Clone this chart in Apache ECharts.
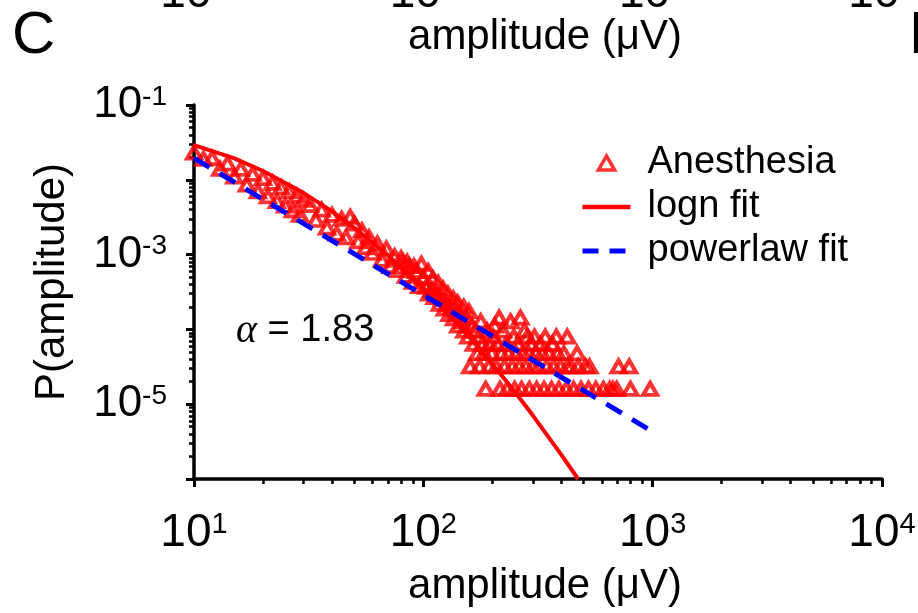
<!DOCTYPE html>
<html><head><meta charset="utf-8">
<script src="https://cdn.jsdelivr.net/npm/echarts@6/dist/echarts.min.js"></script>
<style>html,body{margin:0;padding:0;background:#fff}#c{width:918px;height:613px}</style>
</head><body><div id="c"></div>
<script>
const FONT = 'Liberation Sans, Arial, Helvetica, sans-serif';

// Anesthesia amplitude histogram (amplitude in µV, probability)
const anesAmp = [
  10,11,12,13,14,15,16,17,18,19,20,21,22,23,24,25,26,27,28,29,30,
  32,34,36,38,40,42,44,46,48,50,52,54,56,58,60,
  63,66,69,72,75,78,81,84,87,90,93,96,100,
  103,106,109,112,115,118,121,124,127,130,133,136,139,142,145,148,151,154,157,160,
  163,166,169,172,175,176,178,181,184,187,190,193,196,199,
  202,205,208,211,214,216,219,222,226,230,232,235,240,244,248,250,254,258,262,265,
  268,272,276,280,284,288,290,295,300,305,310,312,318,324,330,336,340,345,352,362,
  365,370,380,385,390,396,410,420,424,425,440,452,468,473,487,510,525,530,565,610,
  650,671,697,710,790,800,975,
  80,85,91,98,105,110,116,122,128,135,141,150,158
];
const anesProb = [
  2.3e-2,1.9e-2,1.95e-2,1.4e-2,1.65e-2,1.1e-2,1.4e-2,8.6e-3,1.2e-2,7.0e-3,1.05e-2,6.0e-3,9.1e-3,5.2e-3,7.9e-3,4.5e-3,7.0e-3,3.9e-3,6.1e-3,3.4e-3,5.4e-3,
  4.6e-3,2.9e-3,4.0e-3,2.3e-3,3.4e-3,1.9e-3,3.0e-3,1.7e-3,3.2e-3,2.6e-3,1.5e-3,2.1e-3,1.25e-3,1.7e-3,1.05e-3,
  1.4e-3,8.5e-4,1.2e-3,7.0e-4,9.5e-4,6.2e-4,8.0e-4,5.2e-4,7.0e-4,4.3e-4,6.0e-4,3.8e-4,5.0e-4,
  3.7e-4,3.0e-4,3.4e-4,2.7e-4,3.0e-4,2.2e-4,2.6e-4,1.9e-4,2.2e-4,1.6e-4,2.0e-4,1.4e-4,1.8e-4,1.12e-4,1.6e-4,1.28e-4,9.6e-5,1.44e-4,8.0e-5,3.2e-5,
  1.12e-4,6.4e-5,9.6e-5,4.8e-5,8.0e-5,3.2e-5,1.28e-4,6.4e-5,4.8e-5,1.6e-5,9.6e-5,3.2e-5,6.4e-5,4.8e-5,
  8.0e-5,1.12e-4,3.2e-5,6.4e-5,1.44e-4,1.6e-5,4.8e-5,9.6e-5,3.2e-5,6.4e-5,1.6e-5,4.8e-5,1.28e-4,3.2e-5,8.0e-5,1.6e-5,4.8e-5,6.4e-5,3.2e-5,1.44e-4,
  1.6e-5,4.8e-5,9.6e-5,3.2e-5,8.0e-5,4.8e-5,1.6e-5,6.4e-5,3.2e-5,8.0e-5,4.8e-5,1.6e-5,3.2e-5,6.4e-5,4.8e-5,1.6e-5,8.0e-5,3.2e-5,4.8e-5,1.6e-5,
  6.4e-5,3.2e-5,8.0e-5,4.8e-5,1.6e-5,3.2e-5,4.8e-5,1.6e-5,8.0e-5,3.2e-5,3.2e-5,1.6e-5,4.8e-5,3.2e-5,1.6e-5,3.2e-5,1.6e-5,3.2e-5,1.6e-5,1.6e-5,
  1.6e-5,1.6e-5,1.6e-5,3.2e-5,3.2e-5,1.6e-5,1.6e-5,
  9.0e-4,8.0e-4,7.0e-4,7.5e-4,6.0e-4,4.8e-4,4.2e-4,3.5e-4,3.0e-4,2.6e-4,2.3e-4,2.0e-4,1.76e-4
];

// lognormal fit curve
const lognAmp  = [10, 15, 20, 30, 40, 50, 70, 100, 150, 200, 250, 300, 400, 473];
const lognProb = [2.9e-2, 1.93e-2, 1.31e-2, 6.7e-3, 3.78e-3, 2.28e-3, 9.8e-4, 3.54e-4, 9.6e-5, 3.45e-5, 1.48e-5, 7.1e-6, 2.1e-6, 1.0e-6];

// power-law fit line
const powAmp  = [10, 100, 1000];
const powProb = [1.95e-2, 2.88e-4, 4.3e-6];

// axis ticks
const xMinor = [20,30,40,50,60,70,80,90,200,300,400,500,600,700,800,900,2000,3000,4000,5000,6000,7000,8000,9000];
const yMinor = [2e-6,3e-6,4e-6,5e-6,6e-6,7e-6,8e-6,9e-6,2e-5,3e-5,4e-5,5e-5,6e-5,7e-5,8e-5,9e-5,
                2e-4,3e-4,4e-4,5e-4,6e-4,7e-4,8e-4,9e-4,2e-3,3e-3,4e-3,5e-3,6e-3,7e-3,8e-3,9e-3,
                2e-2,3e-2,4e-2,5e-2,6e-2,7e-2,8e-2,9e-2];
const yLabelledExp = [-1, -3, -5];
const xTopPartial = [10, 100, 1000, 10000];
const alphaValue = '1.83';

function makeRich(big, small, pad, colorKey) {
  const b = {fontSize: big, lineHeight: big, fontFamily: FONT, padding: [pad,0,0,0], verticalAlign: 'bottom'};
  const s = {fontSize: small, lineHeight: small, fontFamily: FONT, verticalAlign: 'top'};
  b[colorKey] = '#000'; s[colorKey] = '#000';
  return {b: b, s: s};
}
function expOf(v) { return Math.round(Math.log10(v)); }
function expLabel(v) { return '{b|10}{s|' + expOf(v) + '}'; }

const chart = echarts.init(document.getElementById('c'), null, {renderer: 'canvas'});
const axisLineStyle = {color: '#000', width: 3.5};
const triIcon = 'path://M7,0L14,12L0,12Z';
const RED = '#ff0000', BLUE = '#0000ff';

const option = {
  animation: false,
  backgroundColor: '#fff',
  grid: {left: 194, right: 36, top: 105, bottom: 134, containLabel: false, outerBoundsMode: 'none'},
  xAxis: [{
    type: 'log', logBase: 10, min: 10, max: 10000, position: 'bottom',
    axisLine: {show: true, lineStyle: axisLineStyle},
    axisTick: {show: true, length: 8, lineStyle: {color: '#000', width: 3}},
    minorTick: {show: false}, splitLine: {show: false},
    axisLabel: {formatter: expLabel, rich: makeRich(46, 29, 13, 'color'), margin: 31, color: '#000'},
    name: 'amplitude (μV)', nameLocation: 'middle', nameGap: 86,
    nameTextStyle: {fontSize: 42, fontFamily: FONT, color: '#000', padding: [0,0,0,14]}
  }, {
    type: 'log', logBase: 10, min: 10, max: 10000, position: 'bottom', gridIndex: 0,
    axisLine: {show: false},
    axisTick: {show: true, length: 5, customValues: xMinor, lineStyle: {color: '#000', width: 2.5}},
    axisLabel: {show: false}, splitLine: {show: false}
  }],
  yAxis: [{
    type: 'log', logBase: 10, min: 1e-6, max: 1e-1, position: 'left',
    axisLine: {show: true, lineStyle: axisLineStyle},
    axisTick: {show: true, length: 8, lineStyle: {color: '#000', width: 3}},
    minorTick: {show: false}, splitLine: {show: false},
    axisLabel: {
      formatter: function (v) { return yLabelledExp.indexOf(expOf(v)) >= 0 ? expLabel(v) : ''; },
      rich: makeRich(44, 28, 12, 'color'), margin: 27, color: '#000'
    },
    name: 'P(amplitude)', nameLocation: 'middle', nameGap: 121,
    nameTextStyle: {fontSize: 42, fontFamily: FONT, color: '#000', padding: [0,0,0,20]}
  }, {
    type: 'log', logBase: 10, min: 1e-6, max: 1e-1, position: 'left', gridIndex: 0,
    axisLine: {show: false},
    axisTick: {show: true, length: 5, customValues: yMinor, lineStyle: {color: '#000', width: 2.5}},
    axisLabel: {show: false}, splitLine: {show: false}
  }],
  legend: {
    orient: 'vertical', left: 575, top: 139, itemWidth: 48, itemHeight: 14, itemGap: 6,
    symbolKeepAspect: true,
    textStyle: {fontSize: 38, fontFamily: FONT, color: '#000', padding: [0,0,0,12]},
    data: [
      {name: 'Anesthesia', icon: triIcon,
       itemStyle: {color: 'rgba(255,255,255,0)', borderColor: RED, borderWidth: 3.5}},
      {name: 'logn fit', itemStyle: {opacity: 0},
       lineStyle: {color: RED, width: 4.5, type: 'solid'}},
      {name: 'powerlaw fit', itemStyle: {opacity: 0},
       lineStyle: {color: BLUE, width: 5, type: [16, 11]}}
    ]
  },
  series: [{
    name: 'Anesthesia', type: 'scatter', xAxisIndex: 0, yAxisIndex: 0,
    symbol: 'triangle', symbolSize: [14, 12],
    itemStyle: {color: 'rgba(255,255,255,0)', borderColor: RED, borderWidth: 4},
    data: anesAmp.map((a, i) => [a, anesProb[i]])
  }, {
    name: 'logn fit', type: 'line', xAxisIndex: 0, yAxisIndex: 0,
    showSymbol: false, symbol: 'none', smooth: false,
    lineStyle: {color: RED, width: 4}, itemStyle: {color: RED},
    data: lognAmp.map((a, i) => [a, lognProb[i]])
  }, {
    name: 'powerlaw fit', type: 'line', xAxisIndex: 0, yAxisIndex: 0,
    showSymbol: false, symbol: 'none',
    lineStyle: {color: BLUE, width: 5, type: [18, 12]}, itemStyle: {color: BLUE},
    data: powAmp.map((a, i) => [a, powProb[i]])
  }]
};
chart.setOption(option);

const graphics = [
  {type: 'text', x: 12, y: 36, style: {text: 'C', fontSize: 60, fontFamily: FONT, fill: '#000', align: 'left', verticalAlign: 'middle'}},
  {type: 'text', x: 545, y: 37, style: {text: 'amplitude (μV)', fontSize: 42, fontFamily: FONT, fill: '#000', align: 'center', verticalAlign: 'middle'}},
  {type: 'text', x: 909, y: 36, style: {text: 'D', fontSize: 60, fontFamily: FONT, fill: '#000', align: 'left', verticalAlign: 'middle'}},
  {type: 'text', x: 236, y: 331, style: {
    text: '{a|α}{t| = ' + alphaValue + '}', verticalAlign: 'middle', align: 'left',
    rich: {
      a: {fontSize: 40, fontFamily: 'Liberation Serif, DejaVu Serif, serif', fontStyle: 'italic', fill: '#000'},
      t: {fontSize: 38, fontFamily: FONT, fill: '#000'}
    }
  }}
];
xTopPartial.forEach(v => {
  const px = chart.convertToPixel({xAxisIndex: 0}, v);
  graphics.push({type: 'text', x: px, y: 17, style: {
    text: expLabel(v), align: 'center', verticalAlign: 'bottom',
    rich: makeRich(46, 29, 13, 'fill')
  }});
});
chart.setOption({graphic: graphics});
</script>
</body></html>
